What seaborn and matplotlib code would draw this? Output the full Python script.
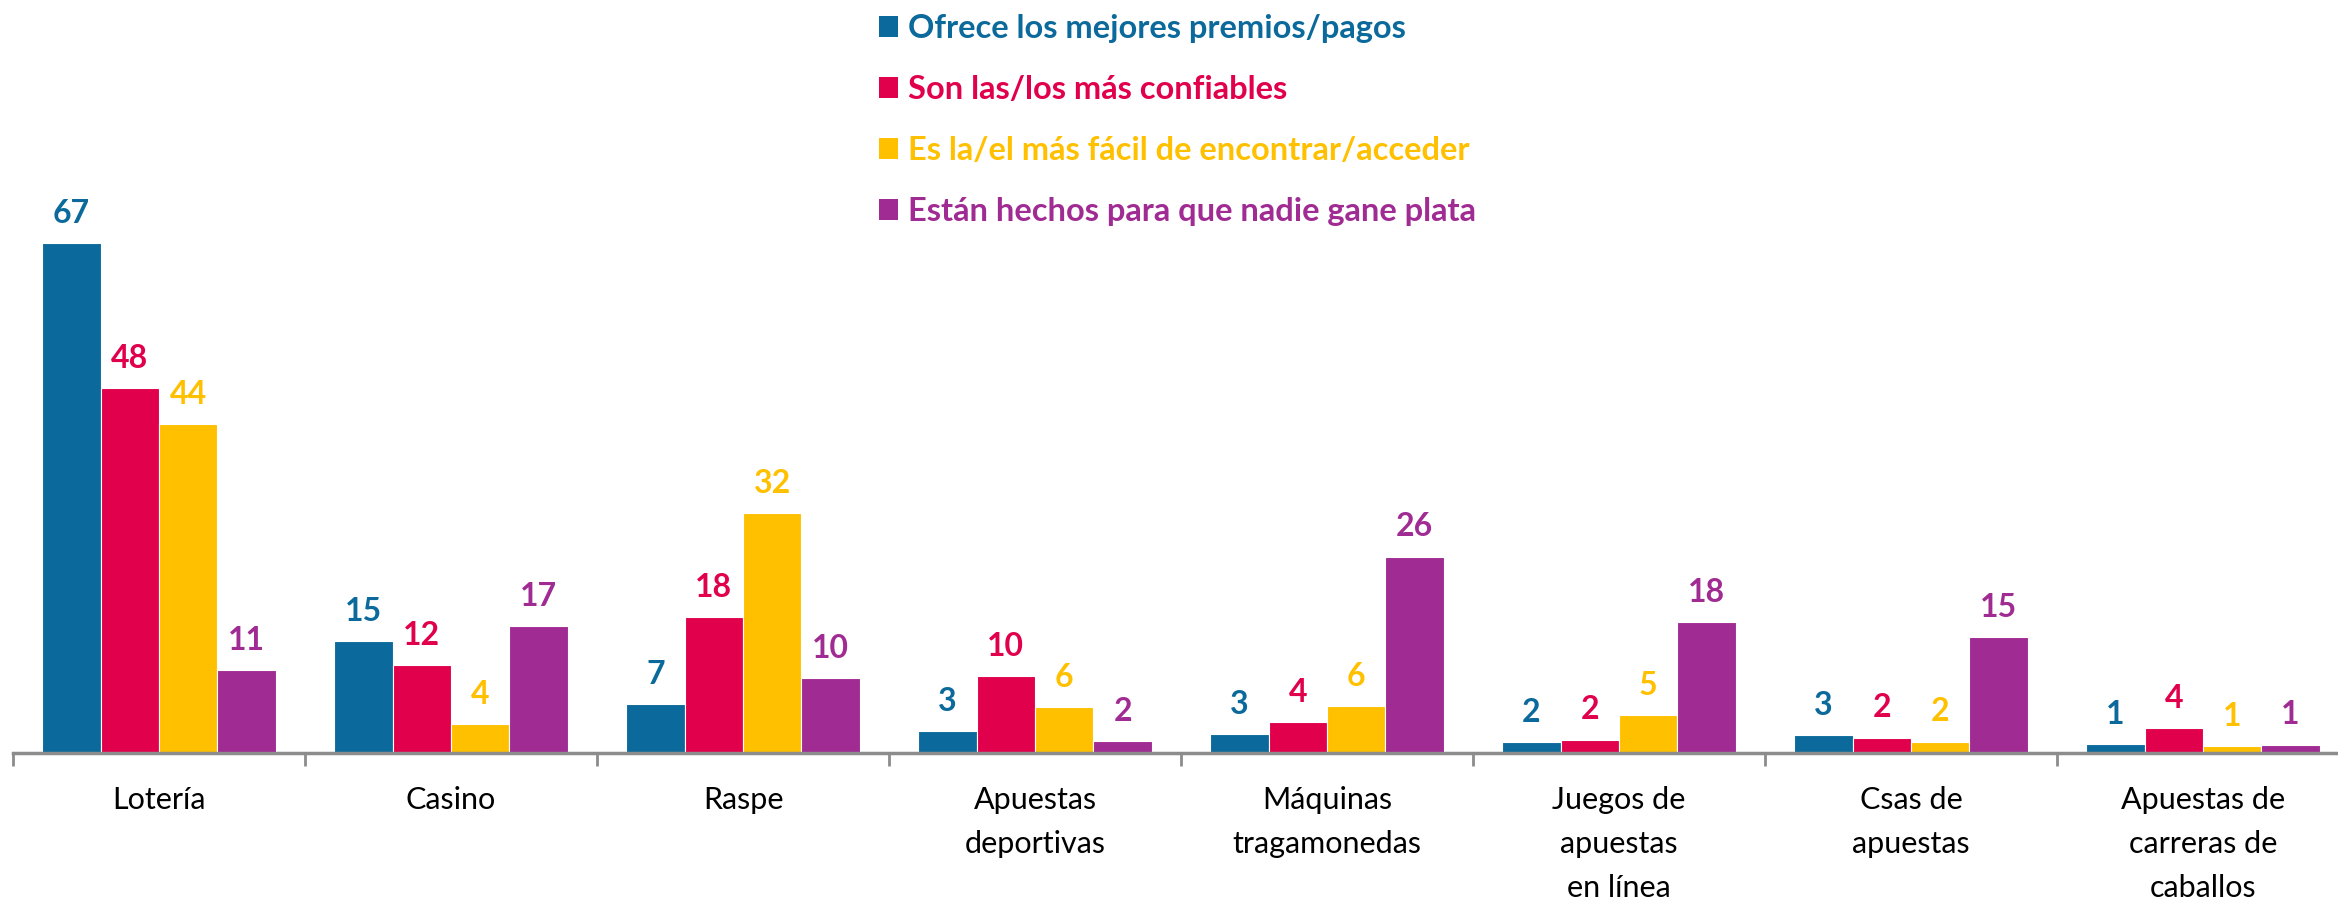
import pandas as pd
import matplotlib.pyplot as plt
import seaborn as sns
from matplotlib.patches import Patch
from matplotlib.ticker import FixedLocator

# Datos (altura de las barras y etiqueta mostrada)
juegos = ["Lotería", "Casino", "Raspe", "Apuestas\ndeportivas", "Máquinas\ntragamonedas",
          "Juegos de\napuestas\nen línea", "Csas de\napuestas", "Apuestas de\ncarreras de\ncaballos"]
series = ["Ofrece los mejores premios/pagos", "Son las/los más confiables",
          "Es la/el más fácil de encontrar/acceder", "Están hechos para que nadie gane plata"]
premios = [67, 14.7, 6.4, 2.85, 2.5, 1.45, 2.3, 1.2]
confiables = [47.9, 11.5, 17.8, 10.1, 4.1, 1.75, 2.0, 3.3]
facil = [43.2, 3.8, 31.5, 6.0, 6.2, 5.0, 1.5, 0.9]
nadie_gana = [10.9, 16.7, 9.8, 1.6, 25.8, 17.2, 15.2, 1.1]
etiquetas = [[67, 15, 7, 3, 3, 2, 3, 1],
             [48, 12, 18, 10, 4, 2, 2, 4],
             [44, 4, 32, 6, 6, 5, 2, 1],
             [11, 17, 10, 2, 26, 18, 15, 1]]
colores = ["#0B6A9B", "#E1004C", "#FFC000", "#A02B93"]

df = pd.DataFrame({"Juego": juegos * 4,
                   "Serie": [s for s in series for _ in juegos],
                   "Valor": premios + confiables + facil + nadie_gana})

sns.set_style("white")
plt.rcParams["font.family"] = ["Lato", "DejaVu Sans"]

fig = plt.figure(figsize=(23.38, 9.02), dpi=100)
# el último grupo se sale un poco del borde derecho, como en el original
ax = fig.add_axes([13 / 2338, 149 / 902, 2336 / 2338, 609 / 902])

sns.barplot(data=df, x="Juego", y="Valor", hue="Serie", palette=colores, width=0.8,
            saturation=1, edgecolor="white", linewidth=0.8, legend=False, ax=ax)

# Etiquetas de valor
for cont, c, labs in zip(ax.containers, colores, etiquetas):
    ax.bar_label(cont, labels=[str(v) for v in labs], padding=11, color=c,
                 fontsize=23, fontweight="bold")

ax.set_ylim(0, 80)
ax.set_xlim(-0.5, 7.5)
ax.set_xlabel("")
ax.set_ylabel("")
ax.set_yticks([])
for s in ["top", "left", "right"]:
    ax.spines[s].set_visible(False)
ax.spines["bottom"].set_color("#8C8C8C")
ax.spines["bottom"].set_linewidth(2.5)

ax.xaxis.set_minor_locator(FixedLocator([i - 0.5 for i in range(9)]))
ax.tick_params(axis="x", which="major", length=0, pad=24, labelsize=22, labelcolor="black")
ax.tick_params(axis="x", which="minor", length=9, width=2, color="#8C8C8C", bottom=True)
for lab in ax.get_xticklabels():
    lab.set_linespacing(1.68)

handles = [Patch(facecolor=c, edgecolor="none") for c in colores]
fig.legend(handles, series, loc="upper left", bbox_to_anchor=(866 / 2338, 1 - 1 / 902),
           frameon=False, labelcolor=colores, prop={"size": 23.5, "weight": "bold"},
           handlelength=0.58, handleheight=0.58, handletextpad=0.32, labelspacing=0.98,
           borderaxespad=0)

plt.savefig("out.png", dpi=100)
plt.close()
